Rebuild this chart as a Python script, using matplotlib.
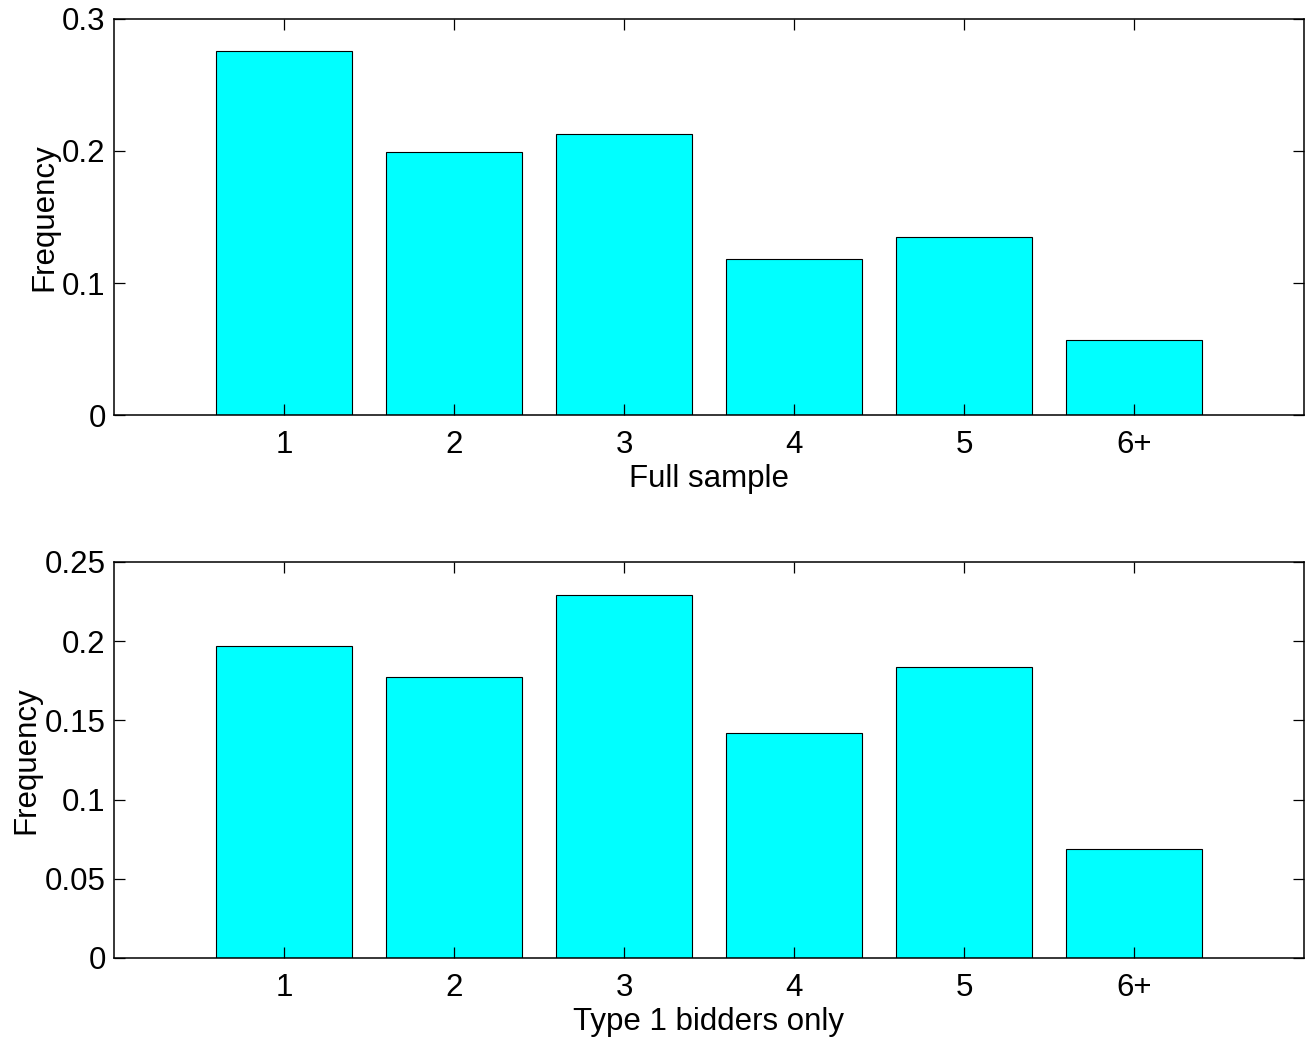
import numpy as np
import matplotlib
matplotlib.use('Agg')
import matplotlib.pyplot as plt

plt.rcParams['font.family'] = ['Liberation Sans', 'DejaVu Sans']
plt.rcParams['font.size'] = 22.5

categorias = ['1', '2', '3', '4', '5', '6+']
freq_total = [0.2758, 0.1992, 0.2129, 0.1182, 0.1348, 0.0568]
freq_tipo1 = [0.1970, 0.1774, 0.2292, 0.1420, 0.1837, 0.0688]
yticks_total = [0, 0.1, 0.2, 0.3]
yticks_tipo1 = [0, 0.05, 0.1, 0.15, 0.2, 0.25]

fig = plt.figure(figsize=(13.07, 10.43), dpi=100)
ax1 = fig.add_axes([0.0872, 0.6021, 0.9105, 0.3797])
ax2 = fig.add_axes([0.0872, 0.0815, 0.9105, 0.3797])

x = np.arange(1, len(categorias) + 1)

def desenha(ax, valores, yticks, ylabels, xlabel):
    ax.bar(x, valores, width=0.8, color='#00ffff', edgecolor='black', linewidth=0.8)
    ax.set_xlim(0, 7)
    ax.set_ylim(yticks[0], yticks[-1])
    ax.set_xticks(x)
    ax.set_xticklabels(categorias)
    ax.set_yticks(yticks)
    ax.set_yticklabels(ylabels)
    ax.tick_params(axis='x', direction='in', length=8, width=0.9, top=True, pad=11)
    ax.tick_params(axis='y', direction='in', length=8, width=0.9, right=True, pad=6)
    for s in ax.spines.values():
        s.set_linewidth(1.1)
    ax.set_xlabel(xlabel, labelpad=3)
    ax.set_ylabel('Frequency', labelpad=2)

desenha(ax1, freq_total, yticks_total, ['0', '0.1', '0.2', '0.3'], 'Full sample')
desenha(ax2, freq_tipo1, yticks_tipo1, ['0', '0.05', '0.1', '0.15', '0.2', '0.25'], 'Type 1 bidders only')

fig.savefig('out.png', dpi=100)
